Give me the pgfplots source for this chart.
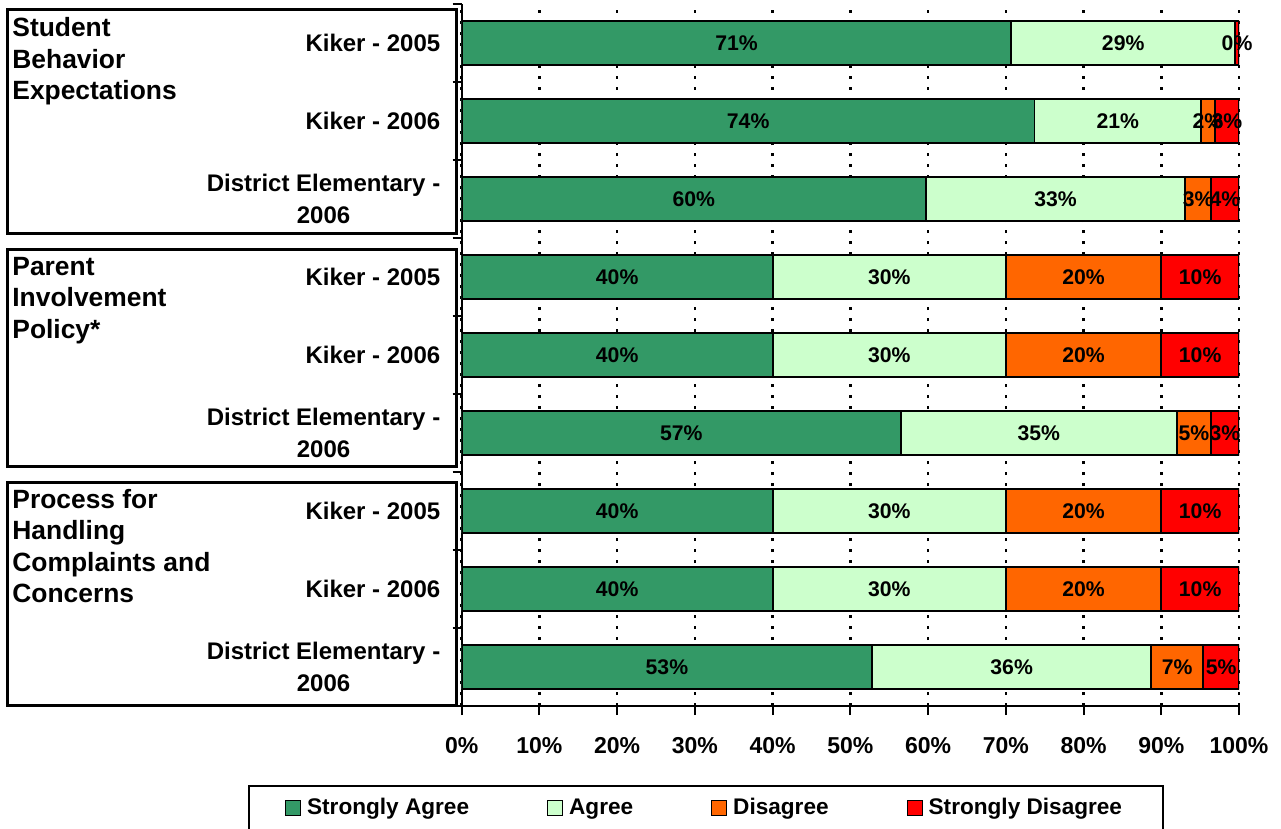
\documentclass[border=0pt]{standalone}
\usepackage{fontspec}
\setmainfont{Liberation Sans}
\usepackage{pgfplots}
\pgfplotsset{compat=1.18}
\usepackage{pgfplotstable}
\definecolor{sagree}{RGB}{51,153,102}
\definecolor{agree}{RGB}{204,255,204}
\definecolor{dis}{RGB}{255,102,0}
\definecolor{sdis}{RGB}{255,0,0}

% rows numbered from bottom (0) to top (8)
\pgfplotstableread{
row sa a d sd
8 70.7 28.8 0 0.5
7 73.7 21.4 1.8 3.1
6 59.7 33.4 3.3 3.6
5 40 30 20 10
4 40 30 20 10
3 56.5 35.5 4.4 3.6
2 40 30 20 10
1 40 30 20 10
0 52.8 35.9 6.7 4.6
}\datatable

\begin{document}
\begin{tikzpicture}
\useasboundingbox (0,0) rectangle (640.5pt,-414.5pt);
\begin{scope}[x=0.5pt,y=-0.5pt]
  \draw[line width=1.5pt] (7.5,10) rectangle (456.5,233.5);
  \draw[line width=1.5pt] (7.5,249) rectangle (456.5,466);
  \draw[line width=1.5pt] (7.5,482) rectangle (456.5,705);
  \begin{scope}[every node/.style={anchor=base west, inner sep=0pt, font=\fontsize{13.2}{15}\selectfont\bfseries}]
    \node at (12,37) {Student};
    \node at (12,68.5) {Behavior};
    \node at (12,100) {Expectations};
    \node at (12,275) {Parent};
    \node at (12,306.5) {Involvement};
    \node at (12,338) {Policy*};
    \node at (12,508) {Process for};
    \node at (12,539.5) {Handling};
    \node at (12,571) {Complaints and};
    \node at (12,602.5) {Concerns};
  \end{scope}
  \draw[line width=1pt] (249,831) -- (249,786) -- (1162.5,786) -- (1162.5,831);
\end{scope}

\begin{axis}[
  at={(230.85pt,-353pt)}, anchor=south west,
  scale only axis, width=388.65pt, height=351pt,
  xbar stacked, bar width=0.558,
  xmin=0, xmax=100, ymin=-0.5, ymax=8.5,
  axis lines*=left,
  axis line style={black, line width=1pt},
  tick style={black, line width=1pt},
  major tick length=4.5pt,
  tick align=outside,
  xtick={0,10,...,100},
  xticklabels={0\%,10\%,20\%,30\%,40\%,50\%,60\%,70\%,80\%,90\%,100\%},
  xticklabel style={font=\fontsize{11.5}{14}\selectfont\bfseries, inner sep=0pt, yshift=-11pt},
  ytick={-0.5,0.5,1.5,2.5,3.5,4.5,5.5,6.5,7.5,8.5},
  yticklabels={{},{},{},{},{},{},{},{},{},{}},
  extra y ticks={0,1,2,3,4,5,6,7,8},
  extra y tick labels={{District Elementary -\\2006},Kiker - 2006,Kiker - 2005,{District Elementary -\\2006},Kiker - 2006,Kiker - 2005,{District Elementary -\\2006},Kiker - 2006,Kiker - 2005},
  extra y tick style={tick style={draw=none}},
  yticklabel style={font=\fontsize{12}{16}\selectfont\bfseries, align=center, inner sep=0pt, xshift=-6pt},
  xmajorgrids,
  major grid style={black, line width=1.25pt, dash pattern=on 1.5pt off 4pt},
  legend columns=4,
  legend style={at={(0.3138,-0.1453)}, anchor=center, draw=none, fill=none,
    font=\fontsize{11.3}{13}\selectfont\bfseries,
    /tikz/every odd column/.append style={column sep=1pt},
    /tikz/every even column/.append style={column sep=37pt}},
  legend image code/.code={\draw[#1, draw=black, line width=0.5pt] (0pt,-3.7pt) rectangle (7.5pt,3.7pt);},
]
\addplot[fill=sagree, draw=black, line width=0.9pt] table[x=sa,y=row] {\datatable};
\addplot[fill=agree, draw=black, line width=0.9pt] table[x=a,y=row] {\datatable};
\addplot[fill=dis, draw=black, line width=0.9pt] table[x=d,y=row] {\datatable};
\addplot[fill=sdis, draw=black, line width=0.9pt] table[x=sd,y=row] {\datatable};
\legend{Strongly Agree,Agree,Disagree,Strongly Disagree}
\end{axis}

\begin{axis}[
  at={(230.85pt,-353pt)}, anchor=south west,
  scale only axis, width=388.65pt, height=351pt,
  xmin=0, xmax=100, ymin=-0.5, ymax=8.5,
  hide axis, clip=false,
]
\addplot[only marks, mark=none, nodes near coords, point meta=explicit symbolic,
  nodes near coords style={anchor=center, inner sep=0pt, text=black, font=\fontsize{10.6}{12}\selectfont\bfseries}]
  table[x=x, y=y, meta=label] {
x y label
35.35 8 71\%
85.1 8 29\%
99.75 8 0\%
36.85 7 74\%
84.4 7 21\%
96.0 7 2\%
98.45 7 3\%
29.85 6 60\%
76.4 6 33\%
94.75 6 3\%
98.2 6 4\%
20 5 40\%
55 5 30\%
80 5 20\%
95 5 10\%
20 4 40\%
55 4 30\%
80 4 20\%
95 4 10\%
28.25 3 57\%
74.25 3 35\%
94.2 3 5\%
98.2 3 3\%
20 2 40\%
55 2 30\%
80 2 20\%
95 2 10\%
20 1 40\%
55 1 30\%
80 1 20\%
95 1 10\%
26.4 0 53\%
70.75 0 36\%
92.05 0 7\%
97.7 0 5\%
};
\end{axis}
\end{tikzpicture}
\end{document}
